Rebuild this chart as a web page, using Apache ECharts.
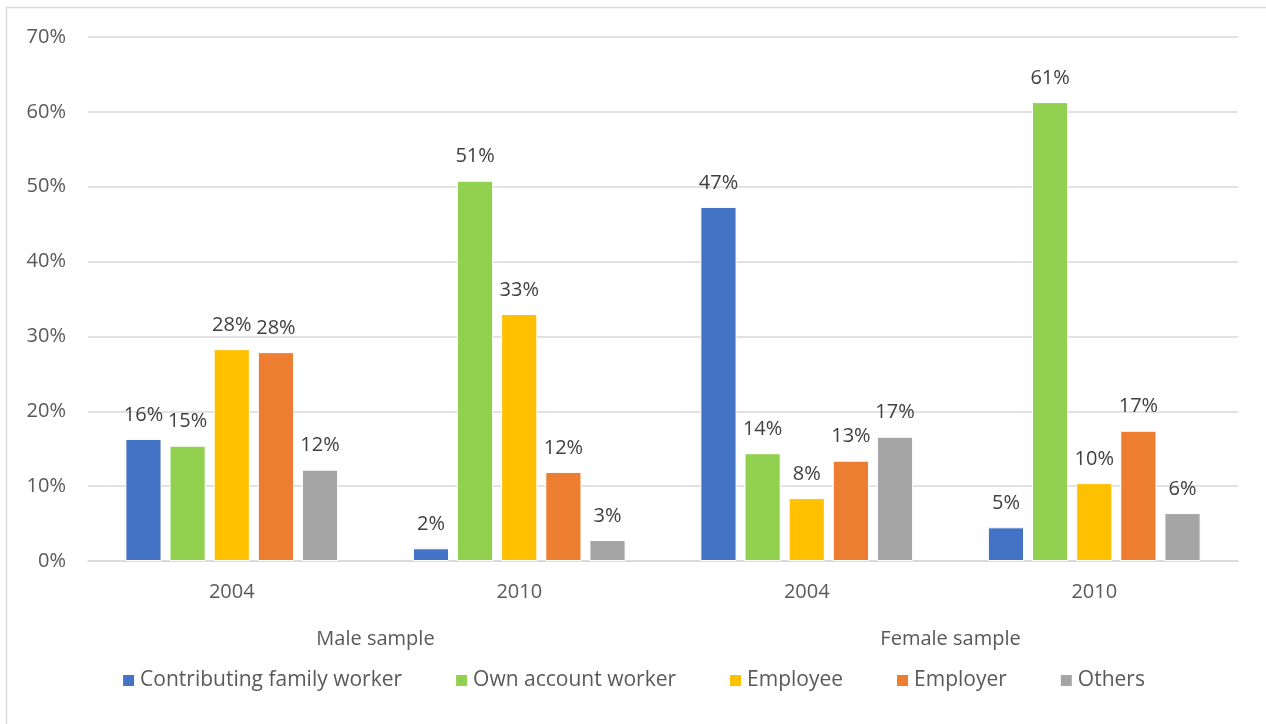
<!DOCTYPE html>
<html>
<head>
<meta charset="utf-8">
<style>
html, body { margin: 0; padding: 0; background: #fff; }
#main { width: 1266px; height: 724px; }
</style>
<script src="https://cdn.jsdelivr.net/npm/echarts@6/dist/echarts.min.js"></script>
</head>
<body>
<div id="main"></div>
<script>
var years = ['2004', '2010', '2004', '2010'];
var groups = ['Male sample', 'Female sample'];
var yTicks = [0, 10, 20, 30, 40, 50, 60, 70];

var familyWorker = [16.3, 1.7, 47.3, 4.5];
var ownAccount = [15.4, 50.8, 14.4, 61.3];
var employee = [28.3, 33.0, 8.4, 10.4];
var employer = [27.9, 11.9, 13.4, 17.4];
var others = [12.2, 2.8, 16.6, 6.4];

var seriesNames = ['Contributing family worker', 'Own account worker', 'Employee', 'Employer', 'Others'];
var seriesData = [familyWorker, ownAccount, employee, employer, others];
var colors = ['#4472C4', '#92D050', '#FFC000', '#ED7D31', '#A5A5A5'];

var font = '"Open Sans", "Liberation Sans", sans-serif';

var chart = echarts.init(document.getElementById('main'));

var series = [];
for (var i = 0; i < seriesNames.length; i++) {
    series.push({
        name: seriesNames[i],
        type: 'bar',
        xAxisIndex: 0,
        data: seriesData[i],
        barGap: '22%',
        barCategoryGap: '26%',
        itemStyle: { color: colors[i], borderColor: '#fff', borderWidth: 1 },
        label: {
            show: true,
            position: 'top',
            distance: 14,
            color: '#404040',
            fontFamily: font,
            fontSize: 20,
            formatter: function (p) { return Math.round(p.value) + '%'; }
        }
    });
}

chart.setOption({
    animation: false,
    color: colors,
    textStyle: { fontFamily: font },
    graphic: [{
        type: 'rect',
        shape: { x: 6.5, y: 7.5, width: 1280, height: 740 },
        style: { fill: 'none', stroke: '#d9d9d9', lineWidth: 1.5 },
        silent: true
    }],
    grid: { left: 88, right: 28, top: 37, bottom: 163 },
    legend: {
        bottom: 28,
        left: 'center',
        icon: 'rect',
        itemWidth: 13,
        itemHeight: 13,
        itemGap: 52,
        textStyle: { color: '#595959', fontSize: 21, fontFamily: font },
        data: seriesNames
    },
    xAxis: [{
        type: 'category',
        data: years,
        axisLine: { lineStyle: { color: '#d9d9d9', width: 1.5 } },
        axisTick: { show: false },
        axisLabel: { color: '#595959', fontSize: 20, fontFamily: font, margin: 21 }
    }, {
        type: 'category',
        data: groups,
        position: 'bottom',
        offset: 47,
        axisLine: { show: false },
        axisTick: { show: false },
        axisLabel: { color: '#595959', fontSize: 20, fontFamily: font, margin: 21 }
    }],
    yAxis: {
        type: 'value',
        min: yTicks[0],
        max: yTicks[yTicks.length - 1],
        interval: 10,
        axisLine: { show: false },
        axisTick: { show: false },
        splitLine: { lineStyle: { color: '#d9d9d9', width: 1.5 } },
        axisLabel: {
            color: '#595959', fontSize: 20, fontFamily: font, margin: 22,
            formatter: function (v) { return v + '%'; }
        }
    },
    series: series
});
</script>
</body>
</html>
